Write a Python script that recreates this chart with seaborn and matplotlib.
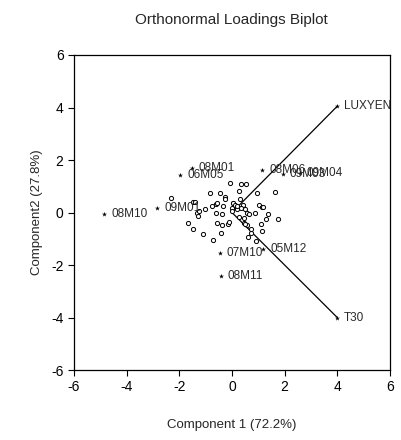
import matplotlib
matplotlib.use("Agg")
import matplotlib.pyplot as plt
import seaborn as sns
import pandas as pd

# Unlabelled observation scores (Component 1, Component 2)
score_x = [-2.33, -1.49, -1.40, -1.34, -1.30, -1.24, -1.03, -1.66, -1.49, -1.11,
           -0.71, -0.84, -0.74, -0.61, -0.56, -0.61, -0.56, -0.46, -0.35, -0.38,
           -0.39, -0.43, -0.25, -0.25, -0.16, -0.11, -0.08, 0.05, 0.09, 0.01,
           0.18, 0.33, 0.53, 0.28, 0.30, 0.43, 0.34, 0.28, 0.49, 0.56,
           0.47, 0.58, 0.66, 0.62, 0.71, 0.73, 0.94, 0.89, 0.91, 1.04,
           1.13, 1.19, 1.09, 1.15, 1.29, 1.38, 1.63, 1.76, 0.01, 0.05,
           0.10, 0.20, 0.45, 0.50]
score_y = [0.54, 0.39, 0.41, -0.03, -0.13, 0.07, 0.13, -0.40, -0.64, -0.83,
           -1.05, 0.74, 0.26, 0.32, 0.35, -0.01, -0.39, 0.74, 0.26, -0.07,
           -0.48, -0.77, 0.58, 0.53, -0.43, -0.35, 1.12, 0.35, 0.26, 0.18,
           0.12, 1.10, 1.10, 0.83, 0.50, 0.29, 0.16, -0.18, 0.12, -0.03,
           -0.41, -0.48, -0.06, -0.92, -0.77, -0.64, 0.73, -0.02, -1.09, 0.30,
           0.22, 0.20, -0.44, -0.69, -0.26, -0.04, 0.79, -0.23, 0.06, 0.38,
           0.30, 0.25, -0.20, -0.45]

# Labelled observations
obs_names = ["08M10", "09M01", "08M01", "06M05", "08M06", "09M03", "09M04",
             "07M10", "08M11", "05M12"]
obs_x = [-4.85, -2.84, -1.53, -1.96, 1.15, 1.92, 2.58, -0.46, -0.43, 1.19]
obs_y = [-0.05, 0.18, 1.70, 1.43, 1.62, 1.45, 1.50, -1.56, -2.42, -1.39]

# Variable loadings
var_names = ["LUXYEN", "T30"]
load_x = [4.0, 4.0]
load_y = [4.05, -4.0]

title = "Orthonormal Loadings Biplot"
xlabel = "Component 1 (72.2%)"
ylabel = "Component2 (27.8%)"
ticks = [-6, -4, -2, 0, 2, 4, 6]

sns.set_style("ticks")
plt.rcParams["font.family"] = ["Liberation Sans", "DejaVu Sans"]
plt.rcParams["axes.unicode_minus"] = False

fig = plt.figure(figsize=(4.02, 4.40), dpi=100)
ax = fig.add_axes([0.184, 0.159, 0.786, 0.716])

scores = pd.DataFrame({"c1": score_x, "c2": score_y})
labelled = pd.DataFrame({"c1": obs_x, "c2": obs_y, "name": obs_names})
loadings = pd.DataFrame({"c1": load_x, "c2": load_y, "name": var_names})

# loading vectors from the origin
for lx, ly in zip(load_x, load_y):
    ax.plot([0, lx], [0, ly], color="black", lw=0.9, zorder=2)

sns.scatterplot(data=scores, x="c1", y="c2", ax=ax, marker="o", s=9,
                facecolor="white", edgecolor="black", linewidth=0.7, zorder=3)
sns.scatterplot(data=labelled, x="c1", y="c2", ax=ax, marker="*", s=14,
                color="black", linewidth=0, zorder=4)
sns.scatterplot(data=loadings, x="c1", y="c2", ax=ax, marker="*", s=14,
                color="black", linewidth=0, zorder=4)

for df in (labelled, loadings):
    for _, r in df.iterrows():
        ax.annotate(r["name"], (r["c1"], r["c2"]), xytext=(5, 0),
                    textcoords="offset points", va="center", ha="left",
                    fontsize=8.5, color="#2a2a2a", zorder=5)

ax.set_xlim(-6, 6)
ax.set_ylim(-6, 6)
ax.set_xticks(ticks)
ax.set_yticks(ticks)
ax.tick_params(direction="out", length=4, width=0.8, labelsize=10, colors="black")
for s in ax.spines.values():
    s.set_color("black")
    s.set_linewidth(0.9)

ax.set_xlabel(xlabel, fontsize=9.5, labelpad=18)
ax.set_ylabel(ylabel, fontsize=9.5, labelpad=6)
fig.text(0.575, 0.955, title, ha="center", va="center", fontsize=11)

fig.savefig("out.png", dpi=100, facecolor="white")
